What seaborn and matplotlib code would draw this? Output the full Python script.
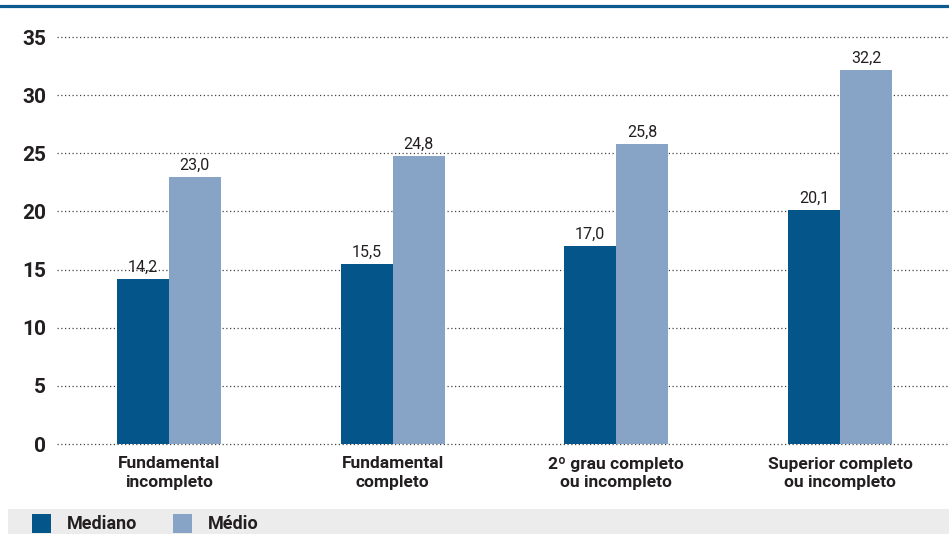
import matplotlib
matplotlib.use("Agg")
import matplotlib.pyplot as plt
from matplotlib.patches import Rectangle
from matplotlib.lines import Line2D
import seaborn as sns
import pandas as pd

# Education level categories and the two statistics per level
categories = ["Fundamental\nincompleto", "Fundamental\ncompleto",
              "2º grau completo\nou incompleto", "Superior completo\nou incompleto"]
mediano = [14.2, 15.5, 17.0, 20.1]
medio = [23.0, 24.8, 25.8, 32.2]
series_names = ["Mediano", "Médio"]
y_ticks = [0, 5, 10, 15, 20, 25, 30, 35]

DARK = "#03558a"
LIGHT = "#87a3c6"
TEXT = "#231f20"

sns.set_theme(style="white")
plt.rcParams["font.family"] = ["Roboto", "DejaVu Sans"]

df = pd.DataFrame({
    "categoria": categories * 2,
    "valor": mediano + medio,
    "serie": [series_names[0]] * 4 + [series_names[1]] * 4,
})

W, H = 949, 534
fig = plt.figure(figsize=(W / 100, H / 100), dpi=100)
ax = fig.add_axes([57 / W, (H - 444) / H, (W - 57) / W, (444 - 37) / H])

sns.barplot(data=df, x="categoria", y="valor", hue="serie",
            palette=[DARK, LIGHT], width=0.465, gap=0, saturation=1,
            linewidth=0, legend=False, ax=ax, zorder=2)

ax.set_xlim(-0.5, 3.487)
ax.set_ylim(0, 35)
ax.set_yticks(y_ticks)
ax.set_yticklabels([str(t) for t in y_ticks], fontsize=15, fontweight="bold", color=TEXT)
ax.tick_params(axis="y", length=0, pad=8)
ax.tick_params(axis="x", length=0, pad=9)
for lbl in ax.get_xticklabels():
    lbl.set_fontsize(12.5)
    lbl.set_fontweight("bold")
    lbl.set_color(TEXT)
    lbl.set_linespacing(1.25)
ax.set_xlabel("")
ax.set_ylabel("")
for s in ax.spines.values():
    s.set_visible(False)

# Dotted horizontal grid behind the bars
for t in y_ticks:
    ax.axhline(t, color="#444444", linestyle=(0, (1, 2)), linewidth=0.9, zorder=1,
               clip_on=False)

# Value labels above each bar
for cont in ax.containers:
    ax.bar_label(cont, labels=[f"{v:.1f}".replace(".", ",") for v in cont.datavalues],
                 padding=3, fontsize=11.5, color=TEXT)

# Top rule
fig.add_artist(Line2D([0, 1], [1 - 5.5 / H, 1 - 5.5 / H], color="#0b5b90",
                      linewidth=2.3, transform=fig.transFigure))

# Legend band
fig.add_artist(Rectangle((8 / W, 0), 1 - 8 / W, 25 / H, transform=fig.transFigure,
                         facecolor="#ececec", edgecolor="none", zorder=0))
for x0, col, name, tx in [(32, DARK, series_names[0], 67), (173, LIGHT, series_names[1], 208)]:
    fig.add_artist(Rectangle((x0 / W, 1 / H), 19 / W, 19 / H, transform=fig.transFigure,
                             facecolor=col, edgecolor="none", zorder=1))
    fig.text(tx / W, 10 / H, name, fontsize=13, fontweight="bold", color=TEXT,
             va="center", ha="left")

fig.savefig("out.png", dpi=100)
